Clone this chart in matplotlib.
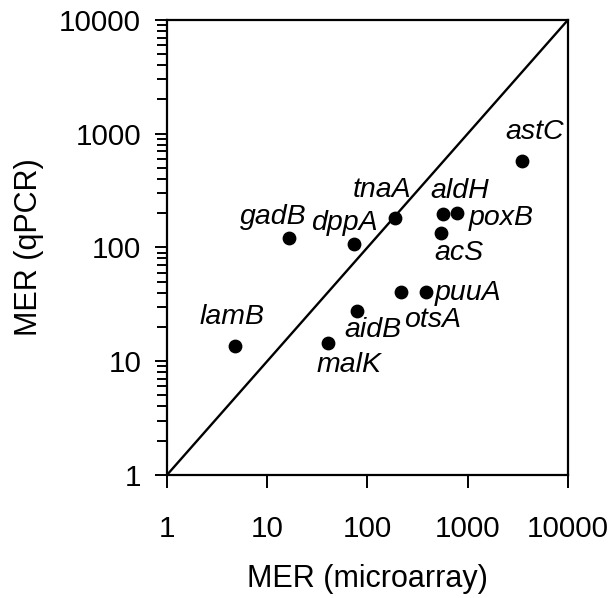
import numpy as np
import matplotlib.pyplot as plt
import matplotlib.ticker as mtick

plt.rcParams['font.family'] = ['Liberation Sans', 'DejaVu Sans']

genes = ["lamB", "malK", "gadB", "dppA", "tnaA", "aidB", "otsA", "puuA",
         "aldH", "poxB", "acS", "astC"]
mer_array = [4.8, 40, 16.4, 73, 188, 78, 216, 384, 570, 776, 537, 3500]
mer_qpcr = [13.7, 14.6, 122, 107, 181, 27.7, 40.4, 40.4, 196, 200, 133, 573]

ticks = [1, 10, 100, 1000, 10000]
tick_labels = ["1", "10", "100", "1000", "10000"]

# label offsets in pixels from each point, plus horizontal alignment
label_pos = {
    "lamB": (-3, 29, "center"),
    "malK": (21, -22, "center"),
    "gadB": (-15, 21, "center"),
    "dppA": (-9, 21, "center"),
    "tnaA": (-13, 28, "center"),
    "aidB": (16, -19, "center"),
    "otsA": (32, -28, "center"),
    "puuA": (9, -1, "left"),
    "aldH": (17, 23, "center"),
    "poxB": (12, -5, "left"),
    "acS": (18, -20, "center"),
    "astC": (12, 29, "center"),
}

fig = plt.figure(figsize=(6.16, 5.98), dpi=100)
ax = fig.add_axes([0.271, 0.2057, 0.651, 0.761])

ax.plot([1, 10000], [1, 10000], color="black", lw=1.7, zorder=1)
ax.scatter(mer_array, mer_qpcr, s=80, color="black", zorder=3)

for g, x, y in zip(genes, mer_array, mer_qpcr):
    dx, dy, ha = label_pos[g]
    ax.annotate(g, (x, y), xytext=(dx, dy), textcoords="offset pixels",
                ha=ha, va="center", fontsize=20.5, style="italic")

ax.set_xscale("log")
ax.set_yscale("log")
ax.set_xlim(1, 10000)
ax.set_ylim(1, 10000)
for axis in (ax.xaxis, ax.yaxis):
    axis.set_major_locator(mtick.FixedLocator(ticks))
    axis.set_major_formatter(mtick.FixedFormatter(tick_labels))
    axis.set_minor_locator(mtick.LogLocator(base=10, subs=np.arange(2, 10)))
    axis.set_minor_formatter(mtick.NullFormatter())

ax.tick_params(which="major", direction="out", length=9, width=1.4,
               labelsize=21.3, pad=9.5)
ax.tick_params(axis="x", which="major", pad=20)
ax.tick_params(which="minor", direction="out", length=7, width=1.4)
for s in ax.spines.values():
    s.set_linewidth(1.6)

ax.set_xlabel("MER (microarray)", fontsize=22, labelpad=15)
ax.set_ylabel("MER (qPCR)", fontsize=22, labelpad=11)

fig.savefig("out.png", dpi=100)
